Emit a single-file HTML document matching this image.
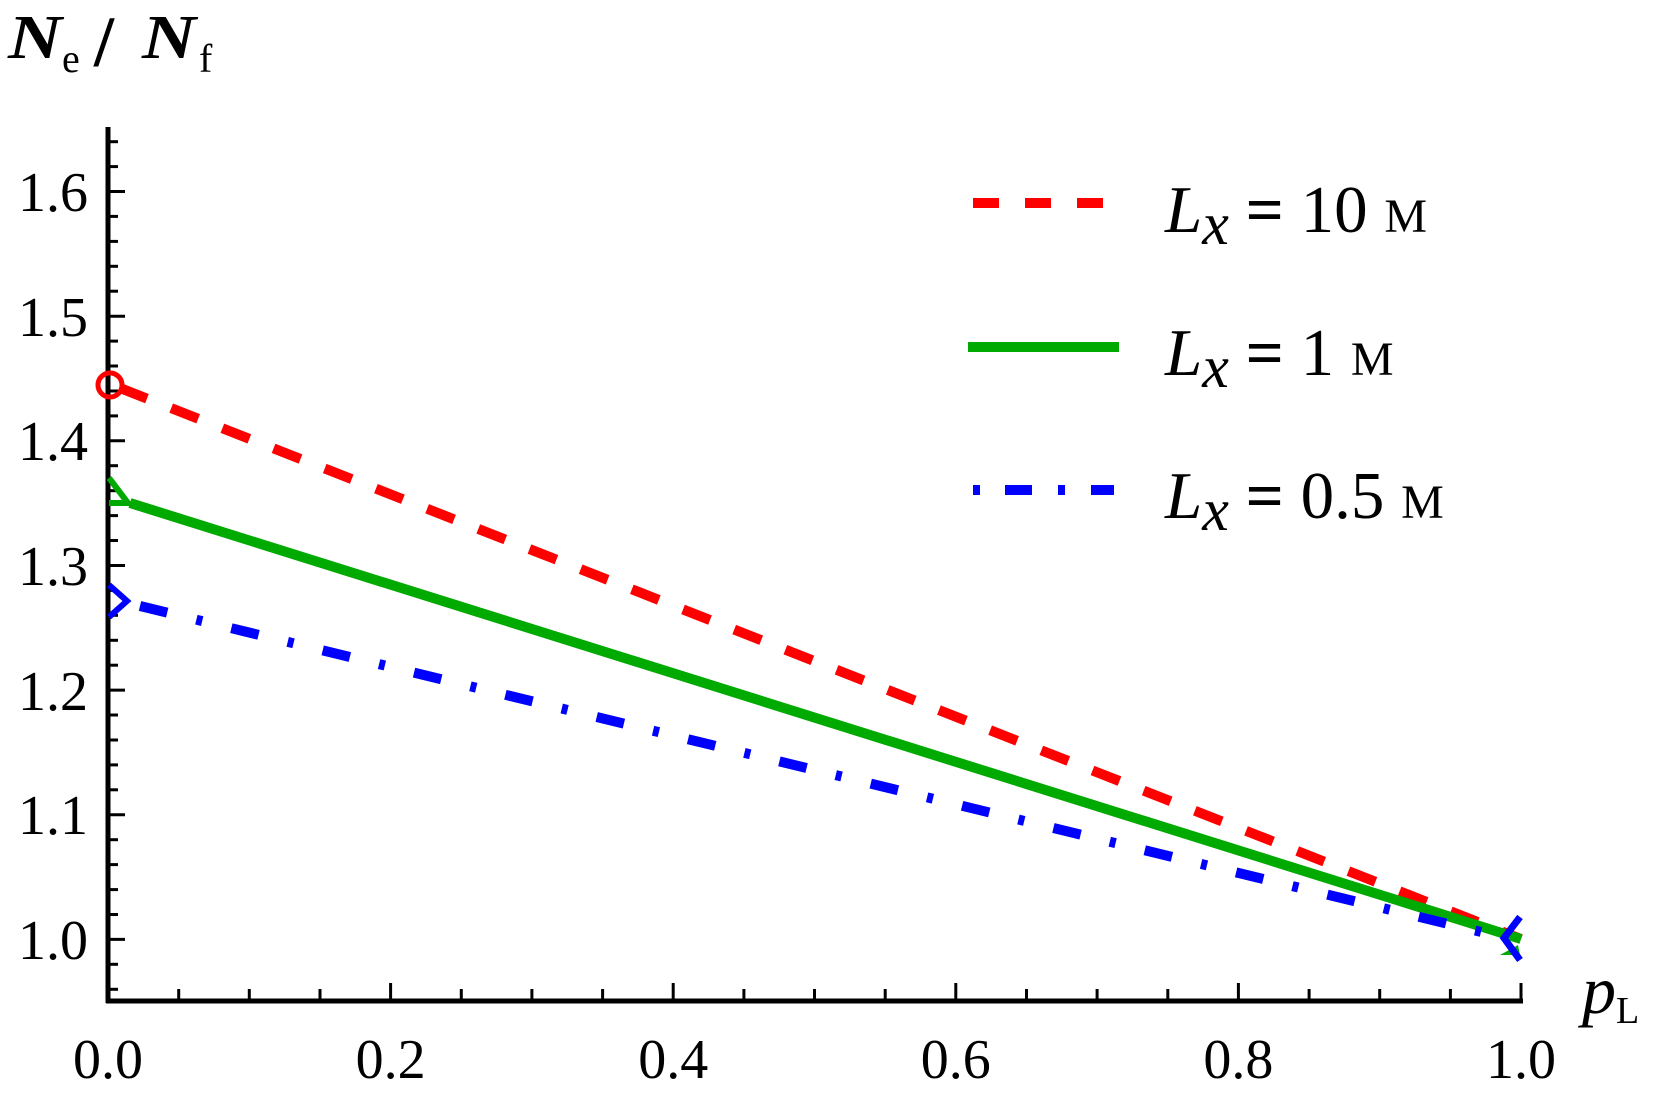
<!DOCTYPE html>
<html><head><meta charset="utf-8"><style>
html,body{margin:0;padding:0;background:#fff;}
svg{display:block;}
text{font-family:"Liberation Serif","DejaVu Serif",serif;}
</style></head><body>
<svg width="1661" height="1103" viewBox="0 0 1661 1103" xmlns="http://www.w3.org/2000/svg">
<line x1="108" y1="127" x2="108" y2="1003" stroke="#000" stroke-width="5"/>
<line x1="106" y1="1001" x2="1523" y2="1001" stroke="#000" stroke-width="5"/>
<g stroke="#000" stroke-width="3">
<line x1="108" y1="141.7" x2="118" y2="141.7"/><line x1="108" y1="166.6" x2="118" y2="166.6"/>
<line x1="108" y1="191.5" x2="125" y2="191.5"/>
<line x1="108" y1="216.4" x2="118" y2="216.4"/><line x1="108" y1="241.4" x2="118" y2="241.4"/><line x1="108" y1="266.3" x2="118" y2="266.3"/><line x1="108" y1="291.2" x2="118" y2="291.2"/>
<line x1="108" y1="316.2" x2="125" y2="316.2"/>
<line x1="108" y1="341.1" x2="118" y2="341.1"/><line x1="108" y1="366" x2="118" y2="366"/><line x1="108" y1="391" x2="118" y2="391"/><line x1="108" y1="415.9" x2="118" y2="415.9"/>
<line x1="108" y1="440.8" x2="125" y2="440.8"/>
<line x1="108" y1="465.7" x2="118" y2="465.7"/><line x1="108" y1="490.7" x2="118" y2="490.7"/><line x1="108" y1="515.6" x2="118" y2="515.6"/><line x1="108" y1="540.5" x2="118" y2="540.5"/>
<line x1="108" y1="565.5" x2="125" y2="565.5"/>
<line x1="108" y1="590.4" x2="118" y2="590.4"/><line x1="108" y1="615.3" x2="118" y2="615.3"/><line x1="108" y1="640.3" x2="118" y2="640.3"/><line x1="108" y1="665.2" x2="118" y2="665.2"/>
<line x1="108" y1="690.1" x2="125" y2="690.1"/>
<line x1="108" y1="715" x2="118" y2="715"/><line x1="108" y1="740" x2="118" y2="740"/><line x1="108" y1="764.9" x2="118" y2="764.9"/><line x1="108" y1="789.8" x2="118" y2="789.8"/>
<line x1="108" y1="814.8" x2="125" y2="814.8"/>
<line x1="108" y1="839.7" x2="118" y2="839.7"/><line x1="108" y1="864.6" x2="118" y2="864.6"/><line x1="108" y1="889.6" x2="118" y2="889.6"/><line x1="108" y1="914.5" x2="118" y2="914.5"/>
<line x1="108" y1="939.4" x2="125" y2="939.4"/>
<line x1="108" y1="964.3" x2="118" y2="964.3"/><line x1="108" y1="989.3" x2="118" y2="989.3"/>
<line x1="178.7" y1="1001" x2="178.7" y2="989"/><line x1="249.3" y1="1001" x2="249.3" y2="989"/><line x1="320" y1="1001" x2="320" y2="989"/>
<line x1="390.6" y1="1001" x2="390.6" y2="983"/>
<line x1="461.3" y1="1001" x2="461.3" y2="989"/><line x1="531.9" y1="1001" x2="531.9" y2="989"/><line x1="602.6" y1="1001" x2="602.6" y2="989"/>
<line x1="673.2" y1="1001" x2="673.2" y2="983"/>
<line x1="743.9" y1="1001" x2="743.9" y2="989"/><line x1="814.5" y1="1001" x2="814.5" y2="989"/><line x1="885.2" y1="1001" x2="885.2" y2="989"/>
<line x1="955.8" y1="1001" x2="955.8" y2="983"/>
<line x1="1026.5" y1="1001" x2="1026.5" y2="989"/><line x1="1097.1" y1="1001" x2="1097.1" y2="989"/><line x1="1167.8" y1="1001" x2="1167.8" y2="989"/>
<line x1="1238.4" y1="1001" x2="1238.4" y2="983"/>
<line x1="1309.1" y1="1001" x2="1309.1" y2="989"/><line x1="1379.7" y1="1001" x2="1379.7" y2="989"/><line x1="1450.4" y1="1001" x2="1450.4" y2="989"/>
<line x1="1521" y1="1001" x2="1521" y2="983"/>
</g>
<g font-size="56" fill="#000" text-anchor="end">
<text x="88" y="211">1.6</text><text x="88" y="336">1.5</text><text x="88" y="460">1.4</text>
<text x="88" y="585">1.3</text><text x="88" y="710">1.2</text><text x="88" y="834">1.1</text><text x="88" y="959">1.0</text>
</g>
<g font-size="56" fill="#000" text-anchor="middle">
<text x="108" y="1078">0.0</text><text x="390.6" y="1078">0.2</text><text x="673.2" y="1078">0.4</text>
<text x="955.8" y="1078">0.6</text><text x="1238.4" y="1078">0.8</text><text x="1521" y="1078">1.0</text>
</g>
<text x="8" y="58" font-size="62" font-weight="bold" font-style="italic" textLength="54" lengthAdjust="spacingAndGlyphs">N</text>
<text x="62" y="72" font-size="40">e</text>
<text x="94" y="66" font-size="72" font-weight="bold">/</text>
<text x="142" y="58" font-size="62" font-weight="bold" font-style="italic" textLength="54" lengthAdjust="spacingAndGlyphs">N</text>
<text x="199" y="72" font-size="40">f</text>
<text x="1582" y="1013" font-size="68" font-style="italic">p</text>
<text x="1616" y="1023" font-size="38">L</text>
<line x1="120" y1="388" x2="1521" y2="939" stroke="#ff0000" stroke-width="10" stroke-dasharray="29 26"/>
<circle cx="110" cy="385" r="12" fill="none" stroke="#ff0000" stroke-width="5"/>
<line x1="130" y1="503" x2="1521" y2="939" stroke="#00aa00" stroke-width="10"/>
<polyline points="109,478 128,503 109,503" fill="none" stroke="#00aa00" stroke-width="6"/>
<line x1="140" y1="606" x2="1510" y2="939" stroke="#0000ff" stroke-width="10" stroke-dasharray="28 30 6 30"/>
<polyline points="109,585 127,601 109,617" fill="none" stroke="#0000ff" stroke-width="6"/>
<polygon points="1500,955 1520,955 1518,945" fill="#00aa00"/>
<polyline points="1520,917 1504,938 1520,960" fill="none" stroke="#0000ff" stroke-width="7"/>
<line x1="973" y1="203" x2="1104" y2="203" stroke="#ff0000" stroke-width="10" stroke-dasharray="26 26"/>
<line x1="968" y1="347" x2="1119" y2="347" stroke="#00aa00" stroke-width="10"/>
<line x1="973" y1="490" x2="1114" y2="490" stroke="#0000ff" stroke-width="10" stroke-dasharray="7 25 27 26 7 26 25"/>
<g font-size="67" fill="#000">
<text x="1165" y="232"><tspan font-style="italic">L</tspan><tspan font-style="italic" font-size="60" dy="12">x</tspan><tspan dy="-12" font-weight="bold"> = </tspan><tspan>10 </tspan><tspan font-size="48">М</tspan></text>
<text x="1165" y="375"><tspan font-style="italic">L</tspan><tspan font-style="italic" font-size="60" dy="12">x</tspan><tspan dy="-12" font-weight="bold"> = </tspan><tspan>1 </tspan><tspan font-size="48">М</tspan></text>
<text x="1165" y="518"><tspan font-style="italic">L</tspan><tspan font-style="italic" font-size="60" dy="12">x</tspan><tspan dy="-12" font-weight="bold"> = </tspan><tspan>0.5 </tspan><tspan font-size="48">М</tspan></text>
</g>
</svg>
</body></html>
